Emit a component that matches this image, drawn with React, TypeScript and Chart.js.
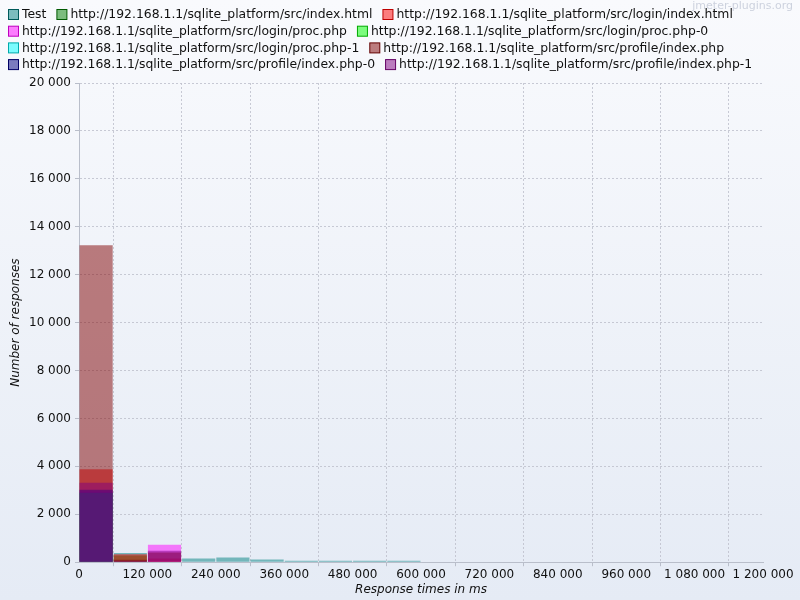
import React, { useEffect, useRef } from "react";
import { Chart, registerables } from "chart.js";

Chart.register(...registerables);

// Bin starts (ms), bin width 60 000 ms
const binStarts = [0, 60000, 120000, 180000, 240000, 300000, 360000, 420000, 480000, 540000];
const binWidth = 60000;

const seriesNames = [
  "Test",
  "http://192.168.1.1/sqlite_platform/src/index.html",
  "http://192.168.1.1/sqlite_platform/src/login/index.html",
  "http://192.168.1.1/sqlite_platform/src/login/proc.php",
  "http://192.168.1.1/sqlite_platform/src/login/proc.php-0",
  "http://192.168.1.1/sqlite_platform/src/login/proc.php-1",
  "http://192.168.1.1/sqlite_platform/src/profile/index.php",
  "http://192.168.1.1/sqlite_platform/src/profile/index.php-0",
  "http://192.168.1.1/sqlite_platform/src/profile/index.php-1",
];

const testValues = [0, 380, 0, 150, 200, 110, 60, 60, 60, 60];
const indexHtmlValues = [2900, 280, 0, 0, 0, 0, 0, 0, 0, 0];
const loginIndexValues = [3880, 330, 150, 0, 0, 0, 0, 0, 0, 0];
const procPhpValues = [2950, 0, 730, 0, 0, 0, 0, 0, 0, 0];
const procPhp0Values = [2900, 0, 0, 0, 0, 0, 0, 0, 0, 0];
const procPhp1Values = [2900, 0, 0, 0, 0, 0, 0, 0, 0, 0];
const profileIndexValues = [13230, 100, 400, 0, 0, 0, 0, 0, 0, 0];
const profileIndex0Values = [3020, 0, 0, 0, 0, 0, 0, 0, 0, 0];
const profileIndex1Values = [3320, 60, 480, 0, 0, 0, 0, 0, 0, 0];

const seriesValues = [
  testValues,
  indexHtmlValues,
  loginIndexValues,
  procPhpValues,
  procPhp0Values,
  procPhp1Values,
  profileIndexValues,
  profileIndex0Values,
  profileIndex1Values,
];

const seriesColors = [
  [0, 128, 128],
  [0, 128, 0],
  [255, 0, 0],
  [255, 0, 255],
  [0, 255, 0],
  [0, 255, 255],
  [128, 0, 0],
  [0, 0, 128],
  [128, 0, 128],
];
const borderColors = [
  [0, 90, 90],
  [0, 90, 0],
  [190, 0, 0],
  [190, 0, 190],
  [0, 170, 0],
  [0, 170, 170],
  [100, 0, 0],
  [0, 0, 100],
  [100, 0, 100],
];

const FONT = "'DejaVu Sans', sans-serif";

function fmt(v: number) {
  return String(Math.round(v)).replace(/\B(?=(\d{3})+(?!\d))/g, " ");
}

const bgPlugin = {
  id: "bgGradient",
  beforeDraw(chart: any) {
    const { ctx, width, height } = chart;
    const g = ctx.createLinearGradient(0, 0, 0, height);
    g.addColorStop(0, "rgb(249,250,253)");
    g.addColorStop(1, "rgb(229,235,245)");
    ctx.save();
    ctx.fillStyle = g;
    ctx.fillRect(0, 0, width, height);
    ctx.restore();
  },
};

const legendPlugin = {
  id: "customLegend",
  afterDraw(chart: any) {
    const { ctx, width } = chart;
    ctx.save();
    ctx.font = `12.4px ${FONT}`;
    ctx.textBaseline = "middle";
    let x = 8;
    let y = 14;
    const rowH = 16.7;
    seriesNames.forEach((name, i) => {
      const w = 14 + ctx.measureText(name).width;
      if (x + w > width - 4 && x > 8) {
        x = 8;
        y += rowH;
      }
      const c = seriesColors[i];
      const b = borderColors[i];
      ctx.fillStyle = `rgba(${c[0]},${c[1]},${c[2]},0.5)`;
      ctx.fillRect(x + 0.5, y - 4.5, 10, 10);
      ctx.strokeStyle = `rgb(${b[0]},${b[1]},${b[2]})`;
      ctx.lineWidth = 1;
      ctx.strokeRect(x + 0.5, y - 4.5, 10, 10);
      ctx.fillStyle = "#111";
      ctx.fillText(name, x + 14, y + 1);
      x += w + 10;
    });
    ctx.font = `11px ${FONT}`;
    ctx.fillStyle = "rgb(205,210,222)";
    ctx.textAlign = "right";
    ctx.fillText("jmeter-plugins.org", 793, 6);
    ctx.restore();
  },
};

export default function App() {
  const ref = useRef<HTMLCanvasElement>(null);
  useEffect(() => {
    document.body.style.margin = "0";
    const datasets = seriesNames.map((name, i) => {
      const c = seriesColors[i];
      return {
        label: name,
        data: binStarts.map((s, k) => ({ x: s + binWidth / 2, y: seriesValues[i][k] })),
        backgroundColor: `rgba(${c[0]},${c[1]},${c[2]},0.5)`,
        borderWidth: 0,
        barPercentage: 0.97,
        categoryPercentage: 1,
        order: seriesNames.length - i,
      };
    });
    const gridColor = "rgba(190,193,205,0.85)";
    const axisColor = "rgb(185,190,202)";
    const chart = new Chart(ref.current!, {
      type: "bar",
      data: { datasets } as any,
      plugins: [bgPlugin, legendPlugin],
      options: {
        animation: false,
        responsive: false,
        layout: { padding: { top: 83, right: 37, left: 0, bottom: 3 } },
        plugins: { legend: { display: false }, tooltip: { enabled: false } },
        scales: {
          x: {
            type: "linear",
            stacked: true,
            min: 0,
            max: 1200000,
            offset: false,
            ticks: {
              stepSize: 120000,
              color: "#111",
              font: { family: FONT, size: 12 },
              padding: 1,
              maxRotation: 0,
              autoSkip: false,
              callback: (v: any) => fmt(Number(v)),
            },
            grid: { color: gridColor, tickLength: 4, tickColor: axisColor },
            border: { display: true, color: axisColor, width: 1, dash: [2, 2] },
            title: {
              display: true,
              text: "Response times in ms",
              color: "#111",
              font: { family: FONT, size: 12, style: "italic" },
              padding: { top: 0, bottom: 0 },
            },
          },
          y: {
            stacked: false,
            min: 0,
            max: 20000,
            ticks: {
              stepSize: 2000,
              color: "#111",
              font: { family: FONT, size: 12 },
              padding: 4,
              callback: (v: any) => fmt(Number(v)),
            },
            grid: { color: gridColor, tickLength: 4, tickColor: axisColor },
            border: { display: true, color: axisColor, width: 1, dash: [2, 2] },
            title: {
              display: true,
              text: "Number of responses",
              color: "#111",
              font: { family: FONT, size: 12, style: "italic" },
              padding: { top: 9, bottom: 2 },
            },
            afterFit: (s: any) => {
              s.width = 79;
            },
          },
        },
      } as any,
    });
    return () => chart.destroy();
  }, []);
  return (
    <div style={{ width: 800, height: 600 }}>
      <canvas ref={ref} width={800} height={600} style={{ display: "block" }} />
    </div>
  );
}
